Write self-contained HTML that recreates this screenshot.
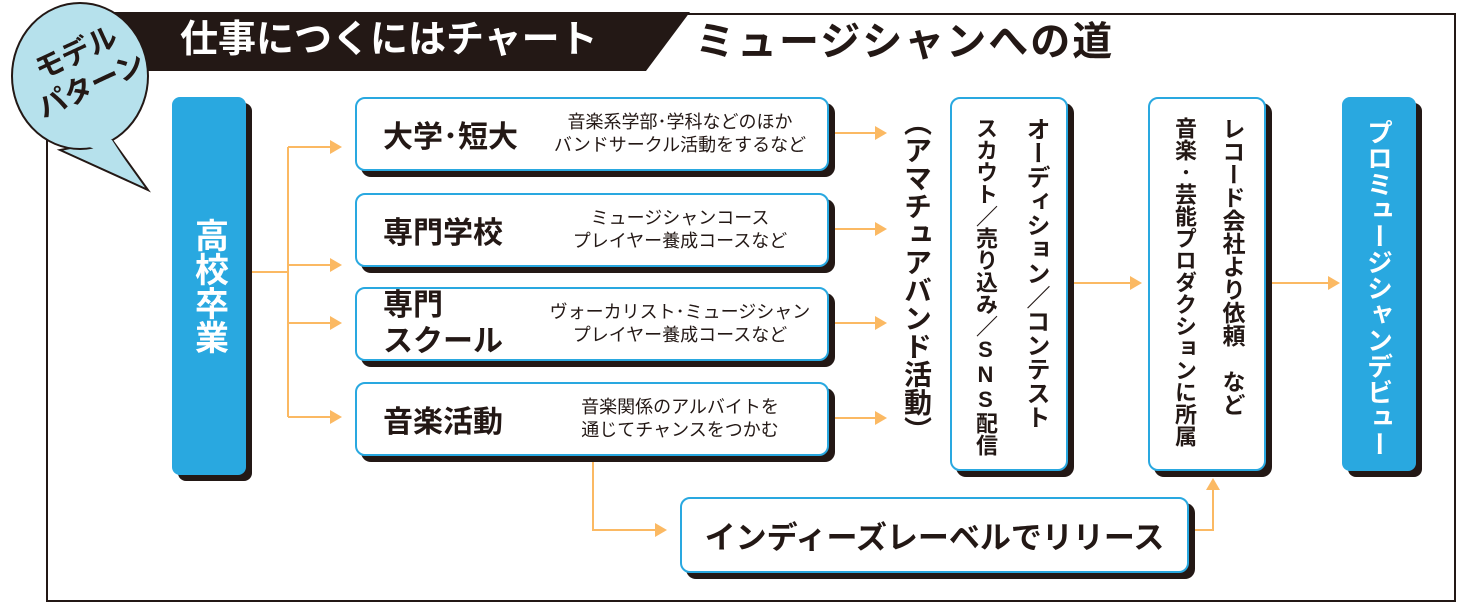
<!DOCTYPE html>
<html><head><meta charset="utf-8"><style>
body{margin:0;width:1459px;height:603px;background:#fff;position:relative;overflow:hidden;font-family:"Liberation Sans","Noto Sans CJK JP",sans-serif;color:#231815}
.a{position:absolute;box-sizing:border-box}
.box{border:2px solid #29a8e0;border-radius:10px;background:#fff;box-shadow:6px 6px 0 #231815}
.blue{background:#29a8e0;border-radius:8px;box-shadow:6px 6px 0 #231815;color:#fff}
.v{writing-mode:vertical-rl;text-orientation:upright;font-weight:bold;white-space:nowrap}
.t{font-weight:bold;font-size:30px;position:absolute;left:26px;top:50%;transform:translateY(-50%)}
.s{font-size:18px;position:absolute;text-align:center;line-height:23px;top:50%;transform:translateY(-50%)}
</style></head><body>
<div class="a" style="left:46px;top:13px;width:1410px;height:589px;border:2px solid #231815"></div>
<svg class="a" style="left:0;top:0" width="1459" height="603">
<polygon points="85,12 690,12 646,71 85,71" fill="#231815"/>
<polygon points="60,150 148,190 112,140" fill="#b6e1ec" stroke="#231815" stroke-width="2"/>
<ellipse cx="80" cy="76" rx="68" ry="73" fill="#b6e1ec" stroke="#231815" stroke-width="2"/>
<polygon points="70,140 112,140 125,160" fill="#b6e1ec"/>
<g stroke="#fbb963" stroke-width="2" fill="none">
<path d="M246 272H288M288 147V417M288 147H330M288 265H330M288 323H330M288 417H330"/>
<path d="M828 133H875M828 229H875M828 323H875M828 418H875"/>
<path d="M1068 283H1130M1266 283H1328"/>
<path d="M593 457V530H655M1188 530H1213V490"/>
</g>
<g fill="#fbb963">
<polygon points="330,140 342,147 330,154"/><polygon points="330,258 342,265 330,272"/><polygon points="330,316 342,323 330,330"/><polygon points="330,410 342,417 330,424"/>
<polygon points="875,126 887,133 875,140"/><polygon points="875,222 887,229 875,236"/><polygon points="875,316 887,323 875,330"/><polygon points="875,411 887,418 875,425"/>
<polygon points="1130,276 1142,283 1130,290"/><polygon points="1328,276 1340,283 1328,290"/>
<polygon points="655,523 667,530 655,537"/><polygon points="1206,490 1213,478 1220,490"/>
</g>
</svg>
<div class="a" style="left:14px;top:34px;width:140px;font-weight:bold;font-size:29px;line-height:36px;transform:rotate(-25deg);text-align:center">モデル<br>パターン</div>
<div class="a" style="left:180px;top:14px;color:#fff;font-weight:bold;font-size:38px;line-height:52px">仕事につくにはチャート</div>
<div class="a" style="left:695px;top:16px;font-weight:bold;font-size:40px;line-height:52px;letter-spacing:2px">ミュージシャンへの道</div>
<div class="a blue" style="left:172px;top:97px;width:74px;height:378px"><div class="v" style="font-size:34px;position:absolute;left:50%;top:50%;transform:translate(-50%,-50%)">高校卒業</div></div>
<div class="a box" style="left:355px;top:97px;width:474px;height:74px"><div class="t">大学･短大</div><div class="s" style="left:178px;width:290px">音楽系学部･学科などのほか<br>バンドサークル活動をするなど</div></div>
<div class="a box" style="left:355px;top:193px;width:474px;height:74px"><div class="t">専門学校</div><div class="s" style="left:178px;width:290px">ミュージシャンコース<br>プレイヤー養成コースなど</div></div>
<div class="a box" style="left:355px;top:287px;width:474px;height:74px"><div class="t" style="line-height:36px">専門<br>スクール</div><div class="s" style="left:178px;width:290px">ヴォーカリスト･ミュージシャン<br>プレイヤー養成コースなど</div></div>
<div class="a box" style="left:355px;top:382px;width:474px;height:74px"><div class="t">音楽活動</div><div class="s" style="left:178px;width:290px">音楽関係のアルバイトを<br>通じてチャンスをつかむ</div></div>
<div class="a v" style="left:896px;top:108px;font-size:28px;line-height:40px;text-orientation:mixed">（アマチュアバンド活動）</div>
<div class="a box" style="left:950px;top:97px;width:118px;height:374px"><div class="v" style="position:absolute;left:8px;top:18px;font-size:24px;line-height:50px">オーディション／コンテスト<br><span style="font-size:22px">スカウト／売り込み／SNS配信</span></div></div>
<div class="a box" style="left:1148px;top:97px;width:118px;height:374px"><div class="v" style="position:absolute;left:10px;top:18px;font-size:23px;line-height:48px">レコード会社より依頼　など<br><span style="font-size:22px">音楽･芸能プロダクションに所属</span></div></div>
<div class="a blue" style="left:1342px;top:97px;width:74px;height:374px"><div class="v" style="position:absolute;left:50%;top:22px;transform:translateX(-50%);font-size:26px">プロミュージシャンデビュー</div></div>
<div class="a box" style="left:680px;top:497px;width:509px;height:76px"><div style="position:absolute;left:0;right:0;top:50%;transform:translateY(-50%);text-align:center;font-weight:bold;font-size:31px">インディーズレーベルでリリース</div></div>
</body></html>
